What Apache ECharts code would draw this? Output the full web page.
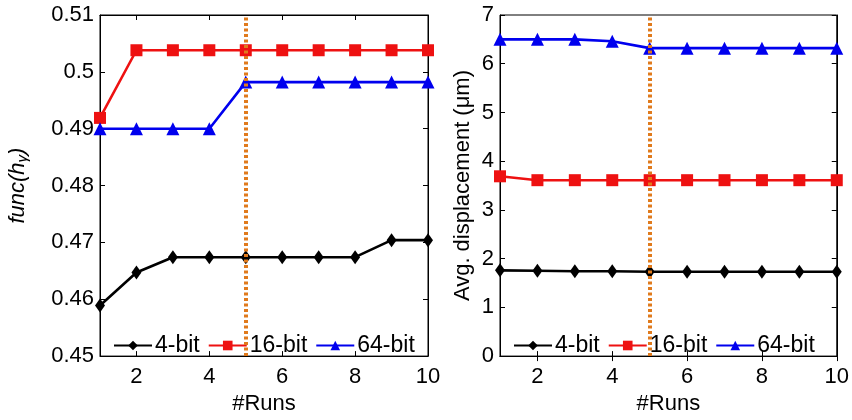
<!DOCTYPE html>
<html>
<head>
<meta charset="utf-8">
<script src="https://cdn.jsdelivr.net/npm/echarts@6/dist/echarts.min.js"></script>
<style>
  html, body { margin: 0; padding: 0; background: #fff; }
  #chart { width: 852px; height: 420px; }
</style>
</head>
<body>
<div id="chart"></div>
<script>
// Number of runs on the x axis
const runs = [1, 2, 3, 4, 5, 6, 7, 8, 9, 10];
const xTicks = [2, 4, 6, 8, 10];
const markerRun = 5;

// Left panel: func(h_gamma) per run
const funcBit4  = [0.4589, 0.4647, 0.4674, 0.4674, 0.4674, 0.4674, 0.4674, 0.4674, 0.4704, 0.4704];
const funcBit16 = [0.4919, 0.5038, 0.5038, 0.5038, 0.5038, 0.5038, 0.5038, 0.5038, 0.5038, 0.5038];
const funcBit64 = [0.4900, 0.4900, 0.4900, 0.4900, 0.4982, 0.4982, 0.4982, 0.4982, 0.4982, 0.4982];

// Right panel: average displacement (um) per run
const dispBit4  = [1.76, 1.75, 1.74, 1.74, 1.73, 1.73, 1.73, 1.73, 1.73, 1.73];
const dispBit16 = [3.69, 3.61, 3.61, 3.61, 3.61, 3.61, 3.61, 3.61, 3.61, 3.61];
const dispBit64 = [6.50, 6.50, 6.50, 6.46, 6.32, 6.32, 6.32, 6.32, 6.32, 6.32];

const seriesNames = ['4-bit', '16-bit', '64-bit'];
const colors = ['#000000', '#ee1111', '#0000ee'];
const symbols = ['diamond', 'rect', 'triangle'];
const symbolSizes = [[10, 14], 12, 13];

const FONT = 'Liberation Sans, Arial, sans-serif';

const chart = echarts.init(document.getElementById('chart'));

const grids = [
  { left: 100, right: 424, top: 15, bottom: 55, show: true, borderColor: '#000', borderWidth: 1 },
  { left: 500, right: 15, top: 15, bottom: 55, show: true, borderColor: '#000', borderWidth: 1 }
];

function bottomX(gi) {
  return {
    type: 'value', gridIndex: gi, min: 1, max: 10, position: 'bottom',
    name: '#Runs', nameLocation: 'middle', nameGap: 34,
    nameTextStyle: { fontFamily: FONT, fontSize: 22, color: '#000' },
    axisLine: { lineStyle: { color: '#000', width: 1 } },
    axisTick: { inside: true, length: 5, customValues: xTicks, lineStyle: { color: '#000' } },
    axisLabel: { customValues: xTicks, margin: 10, fontFamily: FONT, fontSize: 22, color: '#000' },
    splitLine: { show: false }
  };
}
function topX(gi) {
  return {
    type: 'value', gridIndex: gi, min: 1, max: 10, position: 'top',
    axisLine: { lineStyle: { color: '#000', width: 1 } },
    axisTick: { inside: true, length: 5, customValues: xTicks, lineStyle: { color: '#000' } },
    axisLabel: { show: false },
    splitLine: { show: false }
  };
}
function leftY(gi, min, max, interval, name, gap, nameStyle) {
  return {
    type: 'value', gridIndex: gi, min: min, max: max, interval: interval, position: 'left',
    name: name, nameLocation: 'middle', nameGap: gap,
    nameTextStyle: nameStyle,
    axisLine: { show: true, lineStyle: { color: '#000', width: 1 } },
    axisTick: { show: true, inside: true, length: 5, lineStyle: { color: '#000' } },
    axisLabel: { margin: 6, fontFamily: FONT, fontSize: 22, color: '#000' },
    splitLine: { show: false }
  };
}
function rightY(gi, min, max, interval) {
  return {
    type: 'value', gridIndex: gi, min: min, max: max, interval: interval, position: 'right',
    axisLine: { show: true, lineStyle: { color: '#000', width: 1 } },
    axisTick: { show: true, inside: true, length: 5, lineStyle: { color: '#000' } },
    axisLabel: { show: false },
    splitLine: { show: false }
  };
}

function lineSeries(i, data, xi, yi) {
  return {
    name: seriesNames[i], type: 'line', xAxisIndex: xi, yAxisIndex: yi,
    data: runs.map((r, k) => [r, data[k]]),
    symbol: symbols[i], symbolSize: symbolSizes[i], showSymbol: true,
    itemStyle: { color: colors[i] },
    lineStyle: { color: colors[i], width: 2.6 },
    z: 3, animation: false
  };
}

function divider(xi, yi) {
  return {
    type: 'line', xAxisIndex: xi, yAxisIndex: yi, data: [], z: 20, silent: true,
    markLine: {
      silent: true, symbol: 'none', label: { show: false }, animation: false,
      lineStyle: { color: '#e07a1c', type: [3, 2.5], width: 4, opacity: 1 },
      data: [{ xAxis: markerRun }]
    }
  };
}

function legendAt(left, top) {
  return {
    data: seriesNames, left: left, top: top, orient: 'horizontal',
    itemWidth: 38, itemHeight: 12, itemGap: 8,
    textStyle: { fontFamily: FONT, fontSize: 23, color: '#000', padding: [0, 0, 0, -2] },
    backgroundColor: 'transparent', selectedMode: false
  };
}

chart.setOption({
  animation: false,
  grid: grids,
  legend: [
    legendAt(108, 329),
    legendAt(508, 329)
  ],
  xAxis: [bottomX(0), topX(0), bottomX(1), topX(1)],
  yAxis: [
    leftY(0, 0.45, 0.51, 0.01, '{n|func(h}{s|γ}{n|)}', 70, {
      rich: {
        n: { fontFamily: FONT, fontSize: 22, fontStyle: 'italic', color: '#000' },
        s: { fontFamily: FONT, fontSize: 15, fontStyle: 'italic', color: '#000', verticalAlign: 'bottom', padding: [10, 0, 0, 0] }
      }
    }),
    rightY(0, 0.45, 0.51, 0.01),
    leftY(1, 0, 7, 1, 'Avg. displacement (μm)', 26, { fontFamily: FONT, fontSize: 22, color: '#000' }),
    rightY(1, 0, 7, 1)
  ],
  series: [
    lineSeries(0, funcBit4, 0, 0),
    lineSeries(1, funcBit16, 0, 0),
    lineSeries(2, funcBit64, 0, 0),
    divider(0, 0),
    lineSeries(0, dispBit4, 2, 2),
    lineSeries(1, dispBit16, 2, 2),
    lineSeries(2, dispBit64, 2, 2),
    divider(2, 2)
  ]
});
</script>
</body>
</html>
